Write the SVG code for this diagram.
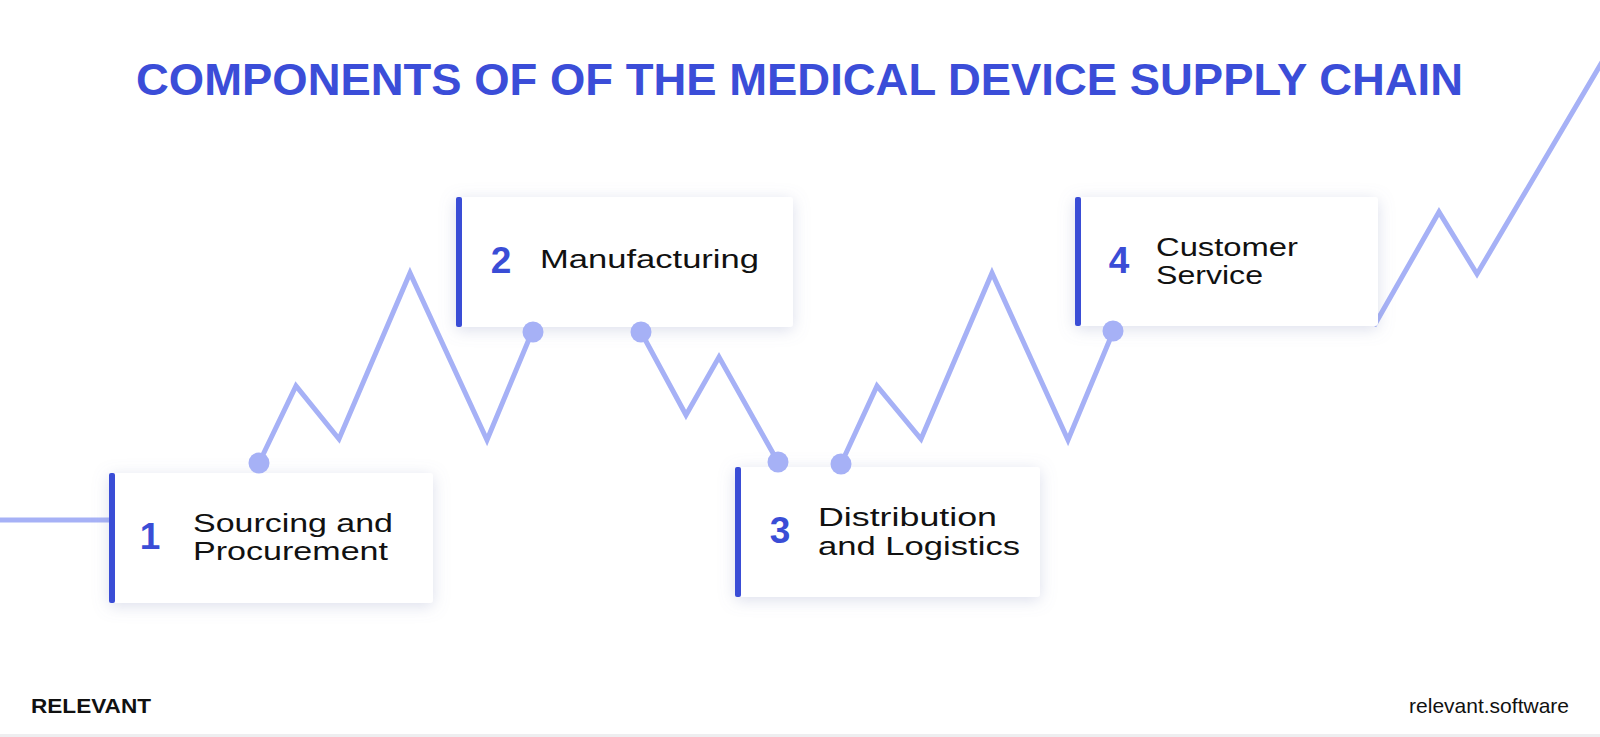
<svg xmlns="http://www.w3.org/2000/svg" width="1600" height="737" viewBox="0 0 1600 737">
  <defs>
    <filter id="sh" x="-20%" y="-30%" width="140%" height="160%">
      <feDropShadow dx="0" dy="3" stdDeviation="8" flood-color="#7f88b8" flood-opacity="0.28"/>
    </filter>
    <style>
      .line { fill: none; stroke: #a6b1f6; stroke-width: 5; stroke-linejoin: miter; }
      .dot { fill: #a6b1f6; }
      .card { fill: #ffffff; filter: url(#sh); }
      .bar { fill: #3a4dd6; }
      .num { font-family: "Liberation Sans", Arial, sans-serif; font-weight: bold; font-size: 37px; fill: #3a4dd6; text-anchor: middle; }
      .lbl { font-family: "Liberation Sans", Arial, sans-serif; font-size: 25px; fill: #111111; }
      .title { font-family: "Liberation Sans", Arial, sans-serif; font-weight: bold; font-size: 44px; fill: #3b4dd8; }
    </style>
  </defs>
  <rect width="1600" height="737" fill="#ffffff"/>
  <rect x="0" y="734" width="1600" height="3" fill="#eeeef0"/>

  <text class="title" x="136" y="95" textLength="1327" lengthAdjust="spacingAndGlyphs">COMPONENTS OF OF THE MEDICAL DEVICE SUPPLY CHAIN</text>

  <g id="connectors">
    <path class="line" d="M0,520 L112,520"/>
    <path class="line" d="M259,463 L296,386 L339,439 L410,273 L487,440 L532,332"/>
    <path class="line" d="M641,332 L686,415 L719,357 L778,462"/>
    <path class="line" d="M841,464 L877,386 L921,439 L992,273 L1068,440 L1113,332"/>
    <path class="line" d="M1374,326 L1439,212 L1477,274 L1605,57"/>
  </g>

  <g id="node1">
    <rect class="card" x="109" y="473" width="324" height="130" rx="3"/>
    <rect class="bar" x="109" y="473" width="6" height="130" rx="2"/>
    <text class="num" x="150" y="549">1</text>
    <text class="lbl" x="193" y="532" textLength="200" lengthAdjust="spacingAndGlyphs">Sourcing and</text>
    <text class="lbl" x="193" y="560" textLength="195" lengthAdjust="spacingAndGlyphs">Procurement</text>
  </g>

  <g id="node2">
    <rect class="card" x="456" y="197" width="337" height="130" rx="3"/>
    <rect class="bar" x="456" y="197" width="6" height="130" rx="2"/>
    <text class="num" x="501" y="273">2</text>
    <text class="lbl" x="540" y="268" textLength="219" lengthAdjust="spacingAndGlyphs">Manufacturing</text>
  </g>

  <g id="node3">
    <rect class="card" x="735" y="467" width="305" height="130" rx="3"/>
    <rect class="bar" x="735" y="467" width="6" height="130" rx="2"/>
    <text class="num" x="780" y="543">3</text>
    <text class="lbl" x="818" y="526" textLength="179" lengthAdjust="spacingAndGlyphs">Distribution</text>
    <text class="lbl" x="818" y="555" textLength="202" lengthAdjust="spacingAndGlyphs">and Logistics</text>
  </g>

  <g id="node4">
    <rect class="card" x="1075" y="197" width="303" height="129" rx="3"/>
    <rect class="bar" x="1075" y="197" width="6" height="129" rx="2"/>
    <text class="num" x="1119" y="273">4</text>
    <text class="lbl" x="1156" y="256" textLength="142" lengthAdjust="spacingAndGlyphs">Customer</text>
    <text class="lbl" x="1156" y="284" textLength="107" lengthAdjust="spacingAndGlyphs">Service</text>
  </g>

  <g id="dots">
    <circle class="dot" cx="259" cy="463" r="10.5"/>
    <circle class="dot" cx="533" cy="332" r="10.5"/>
    <circle class="dot" cx="641" cy="332" r="10.5"/>
    <circle class="dot" cx="778" cy="462" r="10.5"/>
    <circle class="dot" cx="841" cy="464" r="10.5"/>
    <circle class="dot" cx="1113" cy="331" r="10.5"/>
  </g>

  <g id="footer">
    <text x="31" y="713" font-family="Liberation Sans, Arial, sans-serif" font-weight="bold" font-size="20" fill="#111111" textLength="120" lengthAdjust="spacingAndGlyphs">RELEVANT</text>
    <text x="1569" y="713" text-anchor="end" font-family="Liberation Sans, Arial, sans-serif" font-size="21" fill="#111111">relevant.software</text>
  </g>
</svg>
